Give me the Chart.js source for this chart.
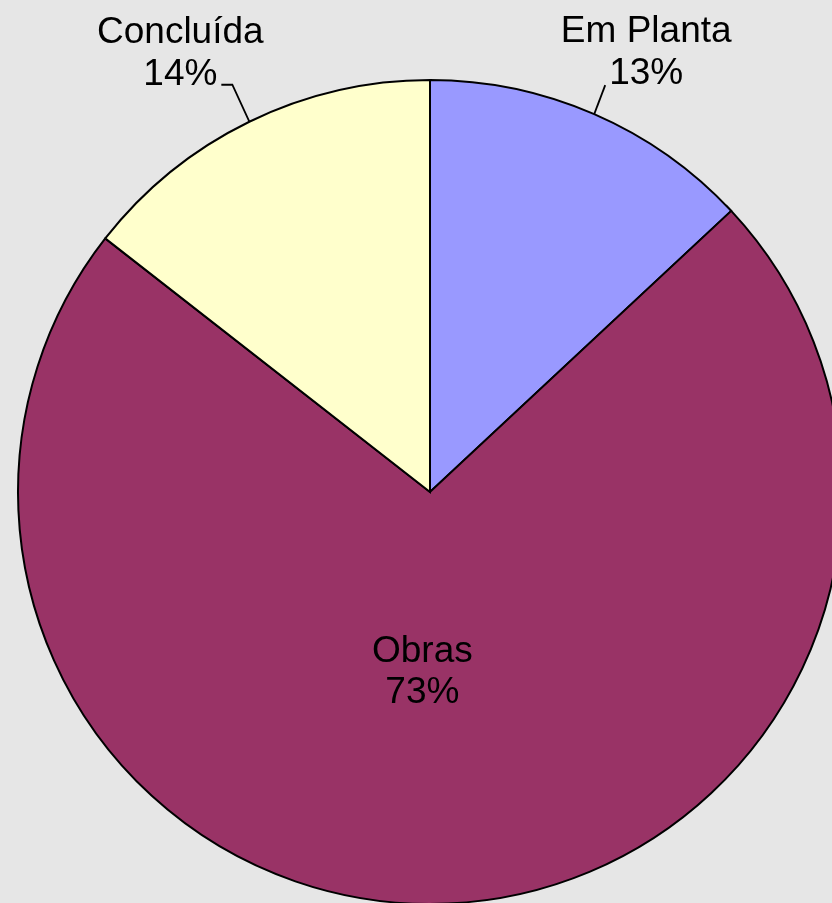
<!DOCTYPE html>
<html>
<head>
<meta charset="utf-8">
<script src="https://cdn.jsdelivr.net/npm/chart.js@4/dist/chart.umd.min.js"></script>
<style>
  html, body { margin: 0; padding: 0; background: #e6e6e6; overflow: hidden; }
  #wrap { width: 860px; height: 984px; }
</style>
</head>
<body>
<div id="wrap"><canvas id="chartPizza" width="860" height="984"></canvas></div>
<script>
const categorias = ['Em Planta', 'Obras', 'Concluída'];
const valores = [13.05, 72.5, 14.45];
const cores = ['#9999ff', '#993366', '#ffffcc'];

// posição dos rótulos (deslocamento em px a partir do ponto de referência)
const rotulosConfig = [
  { fora: true, dx: 52, dy: -30, linha: 'reta' },
  { fora: false, dx: -16, dy: 1 },
  { fora: true, dx: -69, dy: -37, linha: 'cotovelo' }
];

const total = valores.reduce((a, b) => a + b, 0);

const pluginRotulos = {
  id: 'rotulos',
  afterDatasetsDraw(chart) {
    const ctx = chart.ctx;
    const meta = chart.getDatasetMeta(0);
    ctx.save();
    ctx.font = '37px "Liberation Sans", Arial, sans-serif';
    ctx.fillStyle = '#000';
    ctx.strokeStyle = '#000';
    ctx.lineWidth = 1.8;
    ctx.textAlign = 'center';
    ctx.textBaseline = 'alphabetic';
    meta.data.forEach((arc, i) => {
      const cfg = rotulosConfig[i];
      const meio = (arc.startAngle + arc.endAngle) / 2;
      const pct = Math.round(valores[i] / total * 100) + '%';
      if (cfg.fora) {
        const bx = arc.x + Math.cos(meio) * arc.outerRadius;
        const by = arc.y + Math.sin(meio) * arc.outerRadius;
        const tx = bx + cfg.dx;
        const ty = by + cfg.dy;
        ctx.fillText(categorias[i], tx, ty - 42);
        ctx.fillText(pct, tx, ty);
        ctx.beginPath();
        if (cfg.linha === 'reta') {
          ctx.moveTo(bx, by);
          ctx.lineTo(bx + 11, by - 29);
        } else {
          ctx.moveTo(bx, by);
          ctx.lineTo(bx - 17, by - 37);
          ctx.lineTo(bx - 28, by - 37);
        }
        ctx.stroke();
      } else {
        const r = arc.outerRadius * 0.46;
        const tx = arc.x + Math.cos(meio) * r + cfg.dx;
        const ty = arc.y + Math.sin(meio) * r + cfg.dy;
        ctx.fillText(categorias[i], tx, ty - 20);
        ctx.fillText(pct, tx, ty + 21);
      }
    });
    ctx.restore();
  }
};

const ctx = document.getElementById('chartPizza').getContext('2d');
new Chart(ctx, {
  type: 'pie',
  data: {
    labels: categorias,
    datasets: [{
      data: valores,
      backgroundColor: cores,
      borderColor: '#000',
      borderWidth: 2,
      borderJoinStyle: 'miter',
      radius: 412
    }]
  },
  options: {
    responsive: false,
    animation: false,
    layout: { padding: 0 },
    events: [],
    plugins: {
      legend: { display: false },
      tooltip: { enabled: false }
    }
  },
  plugins: [pluginRotulos]
});
</script>
</body>
</html>
